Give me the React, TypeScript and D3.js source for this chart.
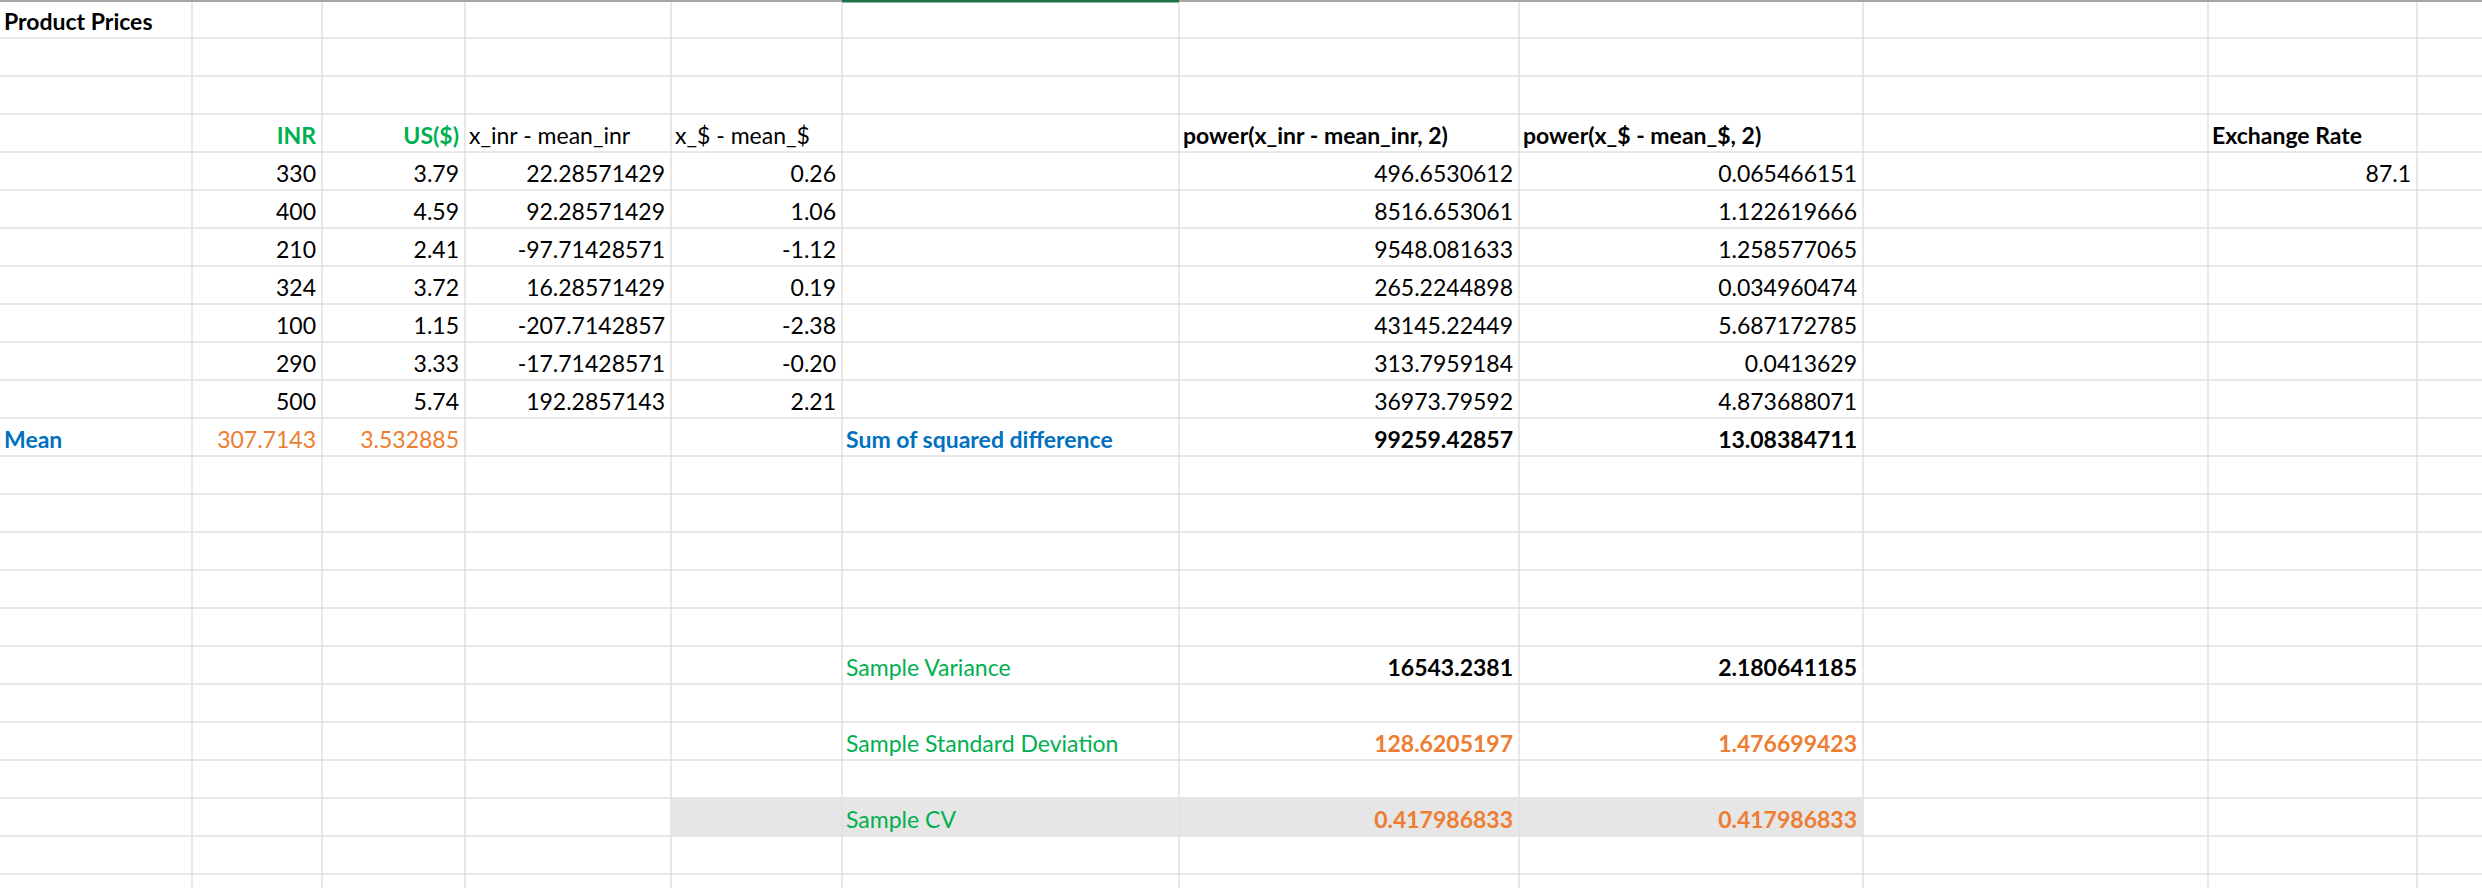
import React from "react";
import * as d3 from "d3";

const inr = ["330", "400", "210", "324", "100", "290", "500"];
const usd = ["3.79", "4.59", "2.41", "3.72", "1.15", "3.33", "5.74"];
const diffInr = ["22.28571429", "92.28571429", "-97.71428571", "16.28571429", "-207.7142857", "-17.71428571", "192.2857143"];
const diffUsd = ["0.26", "1.06", "-1.12", "0.19", "-2.38", "-0.20", "2.21"];
const sqInr = ["496.6530612", "8516.653061", "9548.081633", "265.2244898", "43145.22449", "313.7959184", "36973.79592"];
const sqUsd = ["0.065466151", "1.122619666", "1.258577065", "0.034960474", "5.687172785", "0.0413629", "4.873688071"];
const stats = [
  { label: "Sample Variance", row: 17, inr: "16543.2381", usd: "2.180641185", color: "#000" },
  { label: "Sample Standard Deviation", row: 19, inr: "128.6205197", usd: "1.476699423", color: "#ED7D31" },
  { label: "Sample CV", row: 21, inr: "0.417986833", usd: "0.417986833", color: "#ED7D31" },
];

const W = 2482;
const H = 888;
const colEdges = [0, 192, 322, 465, 671, 842, 1179, 1519, 1863, 2208, 2417, W];
const rowH = 38;
const y = d3.scaleLinear().domain([0, 1]).range([0, rowH]);
const nRows = Math.ceil(H / rowH);

const GREEN = "#00B050";
const ORANGE = "#ED7D31";
const BLUE = "#0070C0";

type CellProps = { col: number; row: number; text: string; align?: "left" | "right"; color?: string; bold?: boolean };

const Cell = ({ col, row, text, align = "right", color = "#000", bold = false }: CellProps) => {
  const x = align === "right" ? colEdges[col + 1] - 6 : colEdges[col] + 4;
  return (
    <text
      x={x}
      y={y(row + 1) - 8}
      textAnchor={align === "right" ? "end" : "start"}
      fill={color}
      fontWeight={bold ? "bold" : "normal"}
    >
      {text}
    </text>
  );
};

export default function App() {
  return (
    <svg width={W} height={H} style={{ position: "fixed", left: 0, top: 0, background: "#fff" }}
      fontFamily="Lato, 'Open Sans', sans-serif" fontSize={23}>
      {/* gray CV band */}
      <rect x={colEdges[4]} y={y(21)} width={colEdges[8] - colEdges[4]} height={rowH} fill="#E7E6E6" />
      {/* grid */}
      {d3.range(1, nRows + 1).map((r) => (
        <line key={"r" + r} x1={0} x2={W} y1={y(r)} y2={y(r)} stroke="#E1E1E1" strokeWidth={1.5} />
      ))}
      {colEdges.slice(1, -1).map((c) => (
        <line key={"c" + c} x1={c} x2={c} y1={0} y2={H} stroke="#E1E1E1" strokeWidth={1.5} />
      ))}
      <line x1={0} x2={W} y1={1} y2={1} stroke="#A6A6A6" strokeWidth={2} />
      <line x1={colEdges[5]} x2={colEdges[6]} y1={1} y2={1} stroke="#217346" strokeWidth={3} />

      <Cell col={0} row={0} text="Product Prices" align="left" bold />
      <Cell col={1} row={3} text="INR" color={GREEN} bold />
      <Cell col={2} row={3} text="US($)" color={GREEN} bold />
      <Cell col={3} row={3} text="x_inr - mean_inr" align="left" />
      <Cell col={4} row={3} text="x_$ - mean_$" align="left" />
      <Cell col={6} row={3} text="power(x_inr - mean_inr, 2)" align="left" bold />
      <Cell col={7} row={3} text="power(x_$ - mean_$, 2)" align="left" bold />
      <Cell col={9} row={3} text="Exchange Rate" align="left" bold />
      <Cell col={9} row={4} text="87.1" />

      {inr.map((v, i) => (
        <g key={i}>
          <Cell col={1} row={4 + i} text={v} />
          <Cell col={2} row={4 + i} text={usd[i]} />
          <Cell col={3} row={4 + i} text={diffInr[i]} />
          <Cell col={4} row={4 + i} text={diffUsd[i]} />
          <Cell col={6} row={4 + i} text={sqInr[i]} />
          <Cell col={7} row={4 + i} text={sqUsd[i]} />
        </g>
      ))}

      <Cell col={0} row={11} text="Mean" align="left" color={BLUE} bold />
      <Cell col={1} row={11} text="307.7143" color={ORANGE} />
      <Cell col={2} row={11} text="3.532885" color={ORANGE} />
      <Cell col={5} row={11} text="Sum of squared difference" align="left" color={BLUE} bold />
      <Cell col={6} row={11} text="99259.42857" bold />
      <Cell col={7} row={11} text="13.08384711" bold />

      {stats.map((s) => (
        <g key={s.label}>
          <Cell col={5} row={s.row} text={s.label} align="left" color={GREEN} />
          <Cell col={6} row={s.row} text={s.inr} color={s.color} bold />
          <Cell col={7} row={s.row} text={s.usd} color={s.color} bold />
        </g>
      ))}
    </svg>
  );
}
